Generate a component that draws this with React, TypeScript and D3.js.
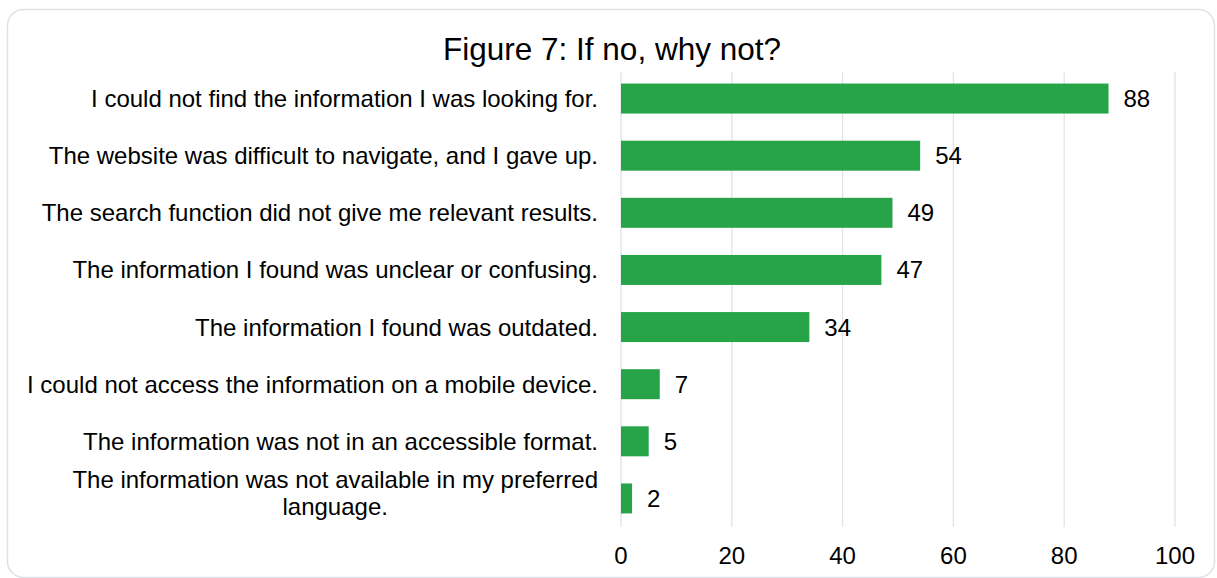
import React from "react";
import * as d3 from "d3";

const title = "Figure 7: If no, why not?";
const categories: string[][] = [
  ["I could not find the information I was looking for."],
  ["The website was difficult to navigate, and I gave up."],
  ["The search function did not give me relevant results."],
  ["The information I found was unclear or confusing."],
  ["The information I found was outdated."],
  ["I could not access the information on a mobile device."],
  ["The information was not in an accessible format."],
  ["The information was not available in my preferred", "language."],
];
const values = [88, 54, 49, 47, 34, 7, 5, 2];
const ticks = [0, 20, 40, 60, 80, 100];

const W = 1217;
const H = 578;
const FONT = "Arial, 'Liberation Sans', sans-serif";
const FS = 24;

function measure(text: string, size: number): number {
  if (typeof document === "undefined") return text.length * size * 0.5;
  const c = document.createElement("canvas");
  const ctx = c.getContext("2d");
  if (!ctx) return text.length * size * 0.5;
  ctx.font = `${size}px Arial, 'Liberation Sans', sans-serif`;
  return ctx.measureText(text).width;
}

export default function App() {
  const x = d3.scaleLinear().domain([0, 100]).range([621, 1175]);
  const y = d3
    .scaleBand<number>()
    .domain(values.map((_, i) => i))
    .range([70, 527])
    .paddingInner(0.475)
    .paddingOuter(0.2375);
  const gridTop = 72;
  const gridBottom = 527;
  const labelX = 598;

  return (
    <svg
      width={W}
      height={H}
      style={{ position: "absolute", left: 0, top: 0, background: "#fff" }}
      fontFamily={FONT}
    >
      <rect x={7.5} y={9.5} width={1207} height={568} rx={16} ry={16} fill="#fff" stroke="#dde1e6" strokeWidth={1.5} />
      <text x={612} y={60} textAnchor="middle" fontSize={31.5} fill="#000">
        {title}
      </text>
      {ticks.map((t) => (
        <g key={t}>
          <line x1={x(t)} x2={x(t)} y1={gridTop} y2={gridBottom} stroke="#dfe3e8" strokeWidth={1.3} />
          <text x={x(t)} y={564} textAnchor="middle" fontSize={FS} fill="#000">
            {t}
          </text>
        </g>
      ))}
      {values.map((v, i) => {
        const y0 = y(i)!;
        const bh = y.bandwidth();
        const cy = y0 + bh / 2;
        const lines = categories[i];
        const lh = 26.5;
        const firstW = measure(lines[0], FS);
        const centerX = labelX - firstW / 2;
        const baseFirst = lines.length === 1 ? cy + 8.5 : cy - 10;
        return (
          <g key={i}>
            <rect x={x(0)} y={y0} width={x(v) - x(0)} height={bh} fill="#28a448" />
            <text x={x(v) + 15} y={cy + 8.5} fontSize={FS} fill="#000">
              {v}
            </text>
            {lines.map((ln, j) => (
              <text
                key={j}
                x={j === 0 ? labelX : centerX}
                y={baseFirst + j * lh}
                textAnchor={j === 0 ? "end" : "middle"}
                fontSize={FS}
                fill="#000"
              >
                {ln}
              </text>
            ))}
          </g>
        );
      })}
    </svg>
  );
}
